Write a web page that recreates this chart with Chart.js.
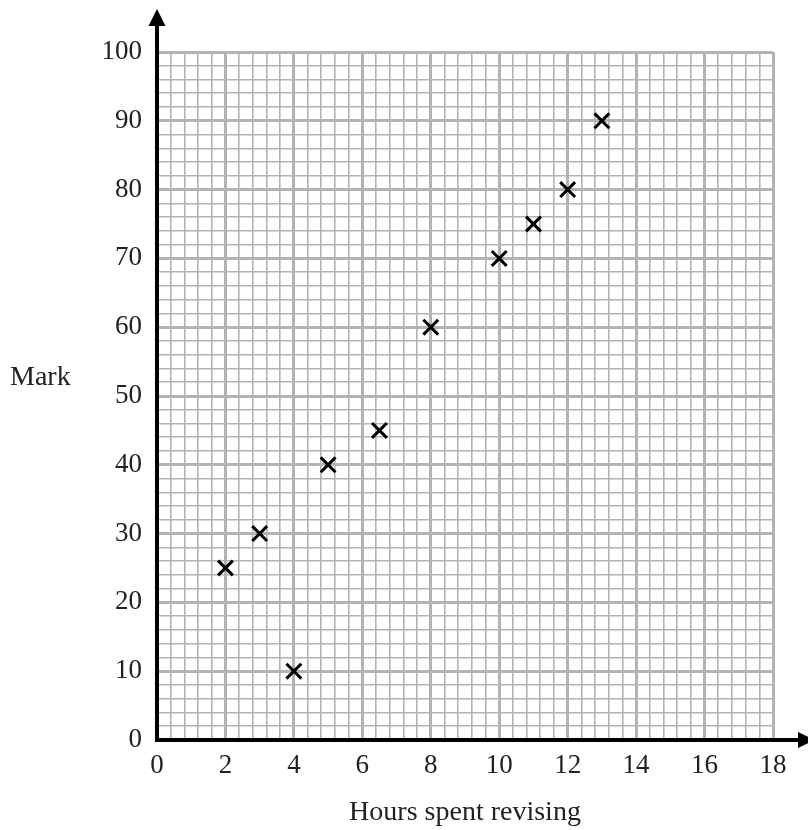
<!DOCTYPE html>
<html>
<head>
<meta charset="utf-8">
<script src="https://cdn.jsdelivr.net/npm/chart.js@4.4.1/dist/chart.umd.min.js"></script>
<style>
  html, body { margin: 0; padding: 0; background: #fff; }
  #wrap { width: 808px; height: 830px; }
</style>
</head>
<body>
<div id="wrap"><canvas id="scatter"></canvas></div>
<script>
const hours = [2, 3, 4, 5, 6.5, 8, 10, 11, 12, 13]
const marks = [25, 30, 10, 40, 45, 60, 70, 75, 80, 90]
const xLabelEvery = 2
const yLabelEvery = 10

const serif = "'Liberation Serif', 'Times New Roman', serif"
const gridGrey = '#b3b3b3'

function isMultiple(v, step){
    return Math.abs(v / step - Math.round(v / step)) < 1e-6
}

// black axes with arrow heads plus the "Mark" label
const axesPlugin = {
    id: 'axesArrows',
    afterDatasetsDraw(chart){
        const ctx = chart.ctx
        const x0 = chart.scales.x.getPixelForValue(0)
        const y0 = chart.scales.y.getPixelForValue(0)
        const area = chart.chartArea
        ctx.save()
        ctx.strokeStyle = '#000'
        ctx.fillStyle = '#000'
        ctx.lineWidth = 4
        ctx.beginPath()
        ctx.moveTo(x0, y0 + 2)
        ctx.lineTo(x0, area.top - 28)
        ctx.moveTo(x0 - 2, y0)
        ctx.lineTo(area.right + 27, y0)
        ctx.stroke()
        // up arrow
        ctx.beginPath()
        ctx.moveTo(x0, area.top - 43)
        ctx.lineTo(x0 - 8.5, area.top - 26)
        ctx.lineTo(x0 + 8.5, area.top - 26)
        ctx.closePath()
        ctx.fill()
        // right arrow
        ctx.beginPath()
        ctx.moveTo(area.right + 42, y0)
        ctx.lineTo(area.right + 25, y0 - 8)
        ctx.lineTo(area.right + 25, y0 + 8)
        ctx.closePath()
        ctx.fill()

        ctx.font = '28px ' + serif
        ctx.fillStyle = '#222'
        ctx.textAlign = 'left'
        ctx.textBaseline = 'middle'
        ctx.fillText('Mark', 10, chart.scales.y.getPixelForValue(50) - 18)
        ctx.restore()
    }
}

const canvas = document.getElementById('scatter')
new Chart(canvas, {
    type: 'scatter',
    data: {
        datasets: [{
            label: 'Mark',
            data: hours.map((h, i) => ({x: h, y: marks[i]})),
            pointStyle: 'crossRot',
            pointRadius: 10.5,
            pointHoverRadius: 10.5,
            borderColor: '#000',
            backgroundColor: '#000',
            pointBorderWidth: 3
        }]
    },
    options: {
        responsive: true,
        maintainAspectRatio: false,
        animation: false,
        layout: { padding: { left: 0, right: 35, top: 52, bottom: 0 } },
        plugins: {
            legend: { display: false },
            tooltip: { enabled: false }
        },
        scales: {
            x: {
                type: 'linear',
                min: 0,
                max: 18,
                afterFit(scale){ scale.height = 90 },
                border: { display: false },
                grid: {
                    drawTicks: false,
                    color: gridGrey,
                    lineWidth: ctx => isMultiple(ctx.tick.value, xLabelEvery) ? 3 : 1.6
                },
                ticks: {
                    stepSize: 0.4,
                    autoSkip: false,
                    maxRotation: 0,
                    padding: 10,
                    color: '#222',
                    font: { family: serif, size: 27 },
                    callback: v => isMultiple(v, xLabelEvery) ? String(Math.round(v)) : ''
                },
                title: {
                    display: true,
                    text: 'Hours spent revising',
                    color: '#222',
                    font: { family: serif, size: 28 },
                    padding: { top: 0, bottom: 1 }
                }
            },
            y: {
                type: 'linear',
                min: 0,
                max: 100,
                afterFit(scale){ scale.width = 157 },
                border: { display: false },
                grid: {
                    drawTicks: false,
                    color: gridGrey,
                    lineWidth: ctx => isMultiple(ctx.tick.value, yLabelEvery) ? 3 : 1.6
                },
                ticks: {
                    stepSize: 2,
                    autoSkip: false,
                    padding: 15,
                    color: '#222',
                    font: { family: serif, size: 27 },
                    callback: v => isMultiple(v, yLabelEvery) ? String(Math.round(v)) : ''
                }
            }
        }
    },
    plugins: [axesPlugin]
})
</script>
</body>
</html>
